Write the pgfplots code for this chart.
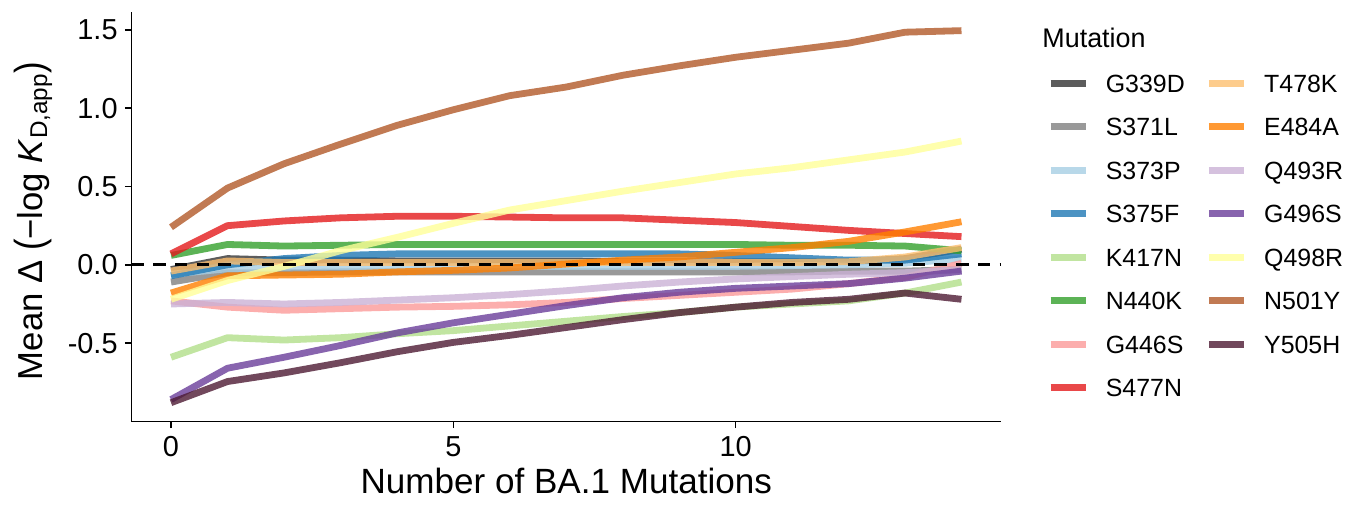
\documentclass[border=0pt]{standalone}
\usepackage{fontspec}
\setmainfont{Liberation Sans}
\usepackage{graphicx}
\usepackage{pgfplots}
\pgfplotsset{compat=1.18}
\usepackage{pgfplotstable}

\definecolor{cG339D}{HTML}{333333}
\definecolor{cS371L}{HTML}{808080}
\definecolor{cS373P}{HTML}{A6CEE3}
\definecolor{cS375F}{HTML}{1F78B4}
\definecolor{cK417N}{HTML}{B2DF8A}
\definecolor{cN440K}{HTML}{33A02C}
\definecolor{cG446S}{HTML}{FB9A99}
\definecolor{cS477N}{HTML}{E31A1C}
\definecolor{cT478K}{HTML}{FDBF6F}
\definecolor{cE484A}{HTML}{FF7F00}
\definecolor{cQ493R}{HTML}{CAB2D6}
\definecolor{cG496S}{HTML}{6A3D9A}
\definecolor{cQ498R}{HTML}{FFFF99}
\definecolor{cN501Y}{HTML}{B15928}
\definecolor{cY505H}{HTML}{4D1A33}

\pgfplotstableread{
x  G339D S371L S373P S375F K417N N440K G446S S477N T478K E484A Q493R G496S Q498R N501Y Y505H
0  -0.03 -0.11  -0.06  -0.07 -0.59  0.06  -0.23  0.07  -0.04  -0.18  -0.25  -0.86  -0.22  0.24  -0.88
1  0.04  -0.05  -0.025 0.00  -0.465 0.13  -0.27  0.25  0.025  -0.07  -0.24  -0.66  -0.10  0.49  -0.745
2  0.03  -0.05  -0.015 0.04  -0.48  0.12  -0.29  0.28  0.015  -0.065 -0.25  -0.59  -0.01  0.645 -0.69
3  0.03  -0.045 -0.01  0.06  -0.465 0.125 -0.28  0.30  0.015  -0.06  -0.24  -0.515 0.09   0.77  -0.625
4  0.025 -0.045 -0.01  0.07  -0.44  0.13  -0.27  0.31  0.015  -0.045 -0.225 -0.435 0.175  0.89  -0.555
5  0.025 -0.045 -0.01  0.07  -0.42  0.13  -0.265 0.31  0.015  -0.035 -0.21  -0.37  0.265  0.99  -0.495
6  0.025 -0.045 -0.01  0.07  -0.39  0.13  -0.255 0.305 0.015  -0.02  -0.19  -0.315 0.35   1.08  -0.45
7  0.025 -0.045 -0.01  0.07  -0.36  0.13  -0.24  0.30  0.015  0.005  -0.165 -0.26  0.41   1.135 -0.40
8  0.02  -0.045 -0.01  0.07  -0.33  0.13  -0.215 0.30  0.015  0.03   -0.135 -0.21  0.47   1.21  -0.35
9  0.02  -0.045 -0.01  0.07  -0.305 0.13  -0.195 0.285 0.015  0.05   -0.11  -0.175 0.525  1.27  -0.305
10 0.02  -0.045 -0.01  0.06  -0.27  0.13  -0.175 0.27  0.015  0.08   -0.09  -0.15  0.58   1.325 -0.27
11 0.02  -0.045 -0.005 0.045 -0.25  0.125 -0.155 0.245 0.015  0.11   -0.075 -0.135 0.62   1.37  -0.24
12 0.02  -0.04  0.00   0.03  -0.23  0.125 -0.12  0.22  0.02   0.15   -0.06  -0.12  0.67   1.415 -0.22
13 0.04  -0.04  0.01   0.03  -0.18  0.12  -0.08  0.20  0.05   0.21   -0.05  -0.085 0.72   1.485 -0.18
14 0.10  -0.03  0.04   0.07  -0.11  0.09  0.01   0.18  0.11   0.275  -0.03  -0.04  0.79   1.495 -0.22
}\data

\begin{document}
\begin{tikzpicture}
\begin{axis}[
  at={(0,0)}, anchor=south west,
  scale only axis, width=434.75bp, height=204.75bp,
  xmin=-0.7, xmax=14.7, ymin=-1.0, ymax=1.614,
  axis lines=left,
  axis line style={-, line width=0.8bp, black},
  x axis line style={-}, y axis line style={-},
  tick align=outside, major tick length=3.25bp,
  tick style={line width=0.8bp, black},
  xtick={0,5,10}, xticklabels={0,5,10},
  ytick={-0.5,0,0.5,1,1.5}, yticklabels={-0.5,0.0,0.5,1.0,1.5},
  minor tick num=0,
  tick label style={font=\fontsize{14.5}{14.5}\selectfont, black},
  xticklabel style={inner sep=4.2bp},
  yticklabel style={inner sep=3.5bp},
  xlabel={Number of BA.1 Mutations},
  ylabel={Mean Δ \raisebox{-0.8bp}{\scalebox{1}[1.17]{(}}−log \textit{K}\textsubscript{D,app}\raisebox{-0.8bp}{\scalebox{1}[1.17]{)}}},
  every axis x label/.style={at={(axis description cs:0.5,0)}, anchor=base, yshift=-35.9bp, font=\fontsize{17.6}{17.6}\selectfont},
  every axis y label/.style={at={(axis description cs:-0.1029,0.49)}, rotate=90, anchor=base, font=\fontsize{17.4}{17.4}\selectfont},
  legend columns=2,
  legend cell align=left,
  legend image code/.code={\draw[#1, line cap=butt] (0bp,0bp) -- (17.7bp,0bp);},
  legend style={at={(axis description cs:1.0532,0.8478)}, anchor=north west,
    draw=none, fill=none, inner sep=0pt, outer sep=0pt,
    row sep=12.8bp, column sep=0pt,
    nodes={inner sep=0pt, text height=8.95bp, text depth=0pt, font=\fontsize{12.5}{12.5}\selectfont},
    /tikz/every odd column/.append style={column sep=8.2bp},
    /tikz/every even column/.append style={column sep=10.4bp}},
  every axis plot/.append style={line width=3.4bp, line join=round, line cap=butt, draw opacity=0.8},
]
\addplot[cG339D, forget plot] table[x=x, y=G339D] {\data};
\addplot[cS371L, forget plot] table[x=x, y=S371L] {\data};
\addplot[cS373P, forget plot] table[x=x, y=S373P] {\data};
\addplot[cS375F, forget plot] table[x=x, y=S375F] {\data};
\addplot[cK417N, forget plot] table[x=x, y=K417N] {\data};
\addplot[cN440K, forget plot] table[x=x, y=N440K] {\data};
\addplot[cG446S, forget plot] table[x=x, y=G446S] {\data};
\addplot[cS477N, forget plot] table[x=x, y=S477N] {\data};
\addplot[cT478K, forget plot] table[x=x, y=T478K] {\data};
\addplot[cE484A, forget plot] table[x=x, y=E484A] {\data};
\addplot[cQ493R, forget plot] table[x=x, y=Q493R] {\data};
\addplot[cG496S, forget plot] table[x=x, y=G496S] {\data};
\addplot[cQ498R, forget plot] table[x=x, y=Q498R] {\data};
\addplot[cN501Y, forget plot] table[x=x, y=N501Y] {\data};
\addplot[cY505H, forget plot] table[x=x, y=Y505H] {\data};
\addplot[black, line width=1.6bp, draw opacity=1, dash pattern=on 6.2bp off 4.65bp, forget plot] coordinates {(-0.7,0) (14.7,0)};

\addlegendimage{cG339D, line width=3.4bp, draw opacity=0.8}\addlegendentry{G339D}
\addlegendimage{cT478K, line width=3.4bp, draw opacity=0.8}\addlegendentry{T478K}
\addlegendimage{cS371L, line width=3.4bp, draw opacity=0.8}\addlegendentry{S371L}
\addlegendimage{cE484A, line width=3.4bp, draw opacity=0.8}\addlegendentry{E484A}
\addlegendimage{cS373P, line width=3.4bp, draw opacity=0.8}\addlegendentry{S373P}
\addlegendimage{cQ493R, line width=3.4bp, draw opacity=0.8}\addlegendentry{Q493R}
\addlegendimage{cS375F, line width=3.4bp, draw opacity=0.8}\addlegendentry{S375F}
\addlegendimage{cG496S, line width=3.4bp, draw opacity=0.8}\addlegendentry{G496S}
\addlegendimage{cK417N, line width=3.4bp, draw opacity=0.8}\addlegendentry{K417N}
\addlegendimage{cQ498R, line width=3.4bp, draw opacity=0.8}\addlegendentry{Q498R}
\addlegendimage{cN440K, line width=3.4bp, draw opacity=0.8}\addlegendentry{N440K}
\addlegendimage{cN501Y, line width=3.4bp, draw opacity=0.8}\addlegendentry{N501Y}
\addlegendimage{cG446S, line width=3.4bp, draw opacity=0.8}\addlegendentry{G446S}
\addlegendimage{cY505H, line width=3.4bp, draw opacity=0.8}\addlegendentry{Y505H}
\addlegendimage{cS477N, line width=3.4bp, draw opacity=0.8}\addlegendentry{S477N}
\end{axis}
\node[anchor=base west, inner sep=0pt, font=\fontsize{13.5}{13.5}\selectfont] at (455.25bp,187.1bp) {Mutation};
\pgfresetboundingbox
\path[use as bounding box] (-65.75bp,-43.25bp) rectangle (607.75bp,210.75bp);
\end{tikzpicture}
\end{document}
